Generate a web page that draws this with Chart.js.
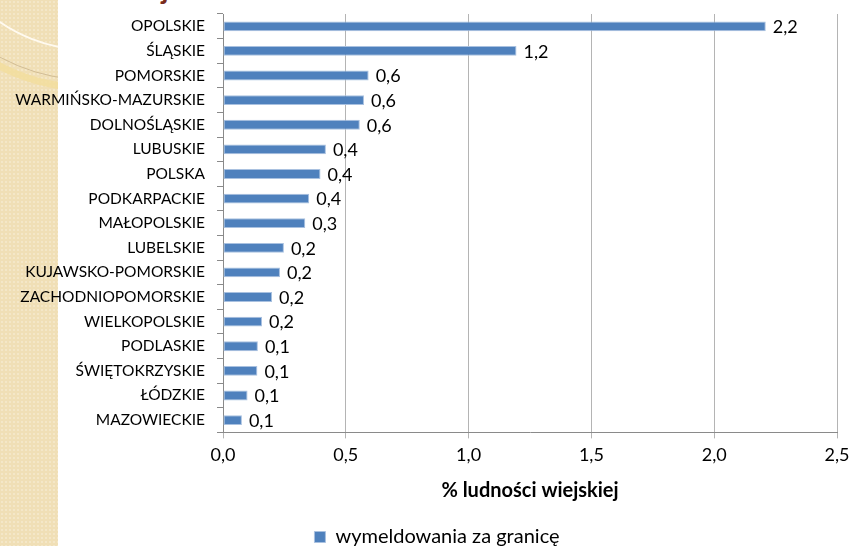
<!DOCTYPE html>
<html lang="pl">
<head>
<meta charset="utf-8">
<title>Wymeldowania za granicę – % ludności wiejskiej</title>
<script src="https://cdn.jsdelivr.net/npm/chart.js@4/dist/chart.umd.min.js"></script>
<style>
  html, body { margin: 0; padding: 0; background: #ffffff; }
  #page { position: relative; width: 852px; height: 546px; overflow: hidden; background: #ffffff; }
  #strip { position: absolute; left: 0; top: 0; width: 58px; height: 546px;
    background-color: #f0dfb6;
    background-image: radial-gradient(rgba(255,255,255,0.25) 1px, transparent 1.2px);
    background-size: 4px 4px; }
  #deco { position: absolute; left: 0; top: 0; }
  #heading { position: absolute; left: 117px; top: -28px; margin: 0;
    font: bold 28px Lato, sans-serif; color: #7a2c1d; line-height: 32px; white-space: nowrap; }
  #chart { position: absolute; left: 0; top: 0; }
</style>
</head>
<body>
<div id="page">
  <div id="strip"></div>
  <svg id="deco" width="58" height="120" viewBox="0 0 58 120">
    <circle cx="90" cy="-109" r="159" fill="none" stroke="#fffaf0" stroke-width="2"/>
    <circle cx="90" cy="-109" r="189" fill="none" stroke="#c9b48c" stroke-width="0.8"/>
    <circle cx="90" cy="-109" r="197" fill="none" stroke="#f3dd9c" stroke-width="7" opacity="0.8"/>
  </svg>
  <div id="heading">wiejskich.</div>
  <canvas id="chart" width="852" height="546"></canvas>
</div>
<script>
// Regions (voivodeships) and the national figure, top to bottom
const regions = [
  'OPOLSKIE', 'ŚLĄSKIE', 'POMORSKIE', 'WARMIŃSKO-MAZURSKIE', 'DOLNOŚLĄSKIE',
  'LUBUSKIE', 'POLSKA', 'PODKARPACKIE', 'MAŁOPOLSKIE', 'LUBELSKIE',
  'KUJAWSKO-POMORSKIE', 'ZACHODNIOPOMORSKIE', 'WIELKOPOLSKIE', 'PODLASKIE',
  'ŚWIĘTOKRZYSKIE', 'ŁÓDZKIE', 'MAZOWIECKIE'
];

// Deregistrations abroad, % of rural population
const deregistrations = [
  2.21, 1.195, 0.593, 0.574, 0.557,
  0.419, 0.397, 0.351, 0.335, 0.248,
  0.232, 0.200, 0.159, 0.142,
  0.140, 0.100, 0.077
];

const seriesName = 'wymeldowania za granicę';
const axisTitle = '% ludności wiejskiej';
const axisMin = 0;
const axisMax = 2.5;
const axisStep = 0.5;

const plFmt = v => Number(v).toFixed(1).replace('.', ',');

// Value labels printed just past the end of each bar
const barValueLabels = {
  id: 'barValueLabels',
  afterDatasetsDraw(chart) {
    const ctx = chart.ctx;
    const meta = chart.getDatasetMeta(0);
    ctx.save();
    ctx.font = '18px Lato, sans-serif';
    ctx.fillStyle = '#000000';
    ctx.textAlign = 'left';
    ctx.textBaseline = 'middle';
    meta.data.forEach((bar, i) => {
      ctx.fillText(plFmt(chart.data.datasets[0].data[i]), bar.x + 7, bar.y + 1);
    });
    ctx.restore();
  }
};

new Chart(document.getElementById('chart'), {
  type: 'bar',
  data: {
    labels: regions,
    datasets: [{
      label: seriesName,
      data: deregistrations,
      backgroundColor: '#4f81bd',
      borderColor: '#a9c1e0',
      borderWidth: 1,
      borderSkipped: false,
      categoryPercentage: 1.0,
      barPercentage: 0.4
    }]
  },
  options: {
    indexAxis: 'y',
    responsive: false,
    animation: false,
    devicePixelRatio: 1,
    layout: { padding: { top: 0, left: 0, right: -22, bottom: -11 } },
    scales: {
      x: {
        min: axisMin,
        max: axisMax,
        ticks: {
          stepSize: axisStep,
          padding: 6,
          color: '#000000',
          font: { family: 'Lato, sans-serif', size: 18 },
          callback: v => plFmt(v)
        },
        grid: { color: '#b4b4b4', lineWidth: 1, tickLength: 6, drawTicks: true },
        border: { color: '#8a8a8a', width: 1 },
        title: {
          display: true,
          text: axisTitle,
          color: '#000000',
          font: { family: 'Lato, sans-serif', size: 20, weight: 'bold' },
          padding: { top: 7, bottom: 16 }
        },
        afterFit(scale) { scale.paddingLeft = 0; scale.paddingRight = 15; }
      },
      y: {
        ticks: {
          padding: 12,
          color: '#000000',
          font: { family: 'Lato, sans-serif', size: 15.5 }
        },
        grid: { drawOnChartArea: false, drawTicks: true, tickLength: 6, offset: true, color: '#8a8a8a' },
        border: { color: '#8a8a8a', width: 1 },
        afterFit(scale) { scale.width = 223; scale.paddingTop = 14; scale.paddingBottom = 0; }
      }
    },
    plugins: {
      legend: {
        position: 'bottom',
        labels: {
          boxWidth: 11,
          boxHeight: 11,
          padding: 8,
          color: '#000000',
          font: { family: 'Lato, sans-serif', size: 20 }
        }
      },
      tooltip: { enabled: false }
    }
  },
  plugins: [barValueLabels]
});
</script>
</body>
</html>
